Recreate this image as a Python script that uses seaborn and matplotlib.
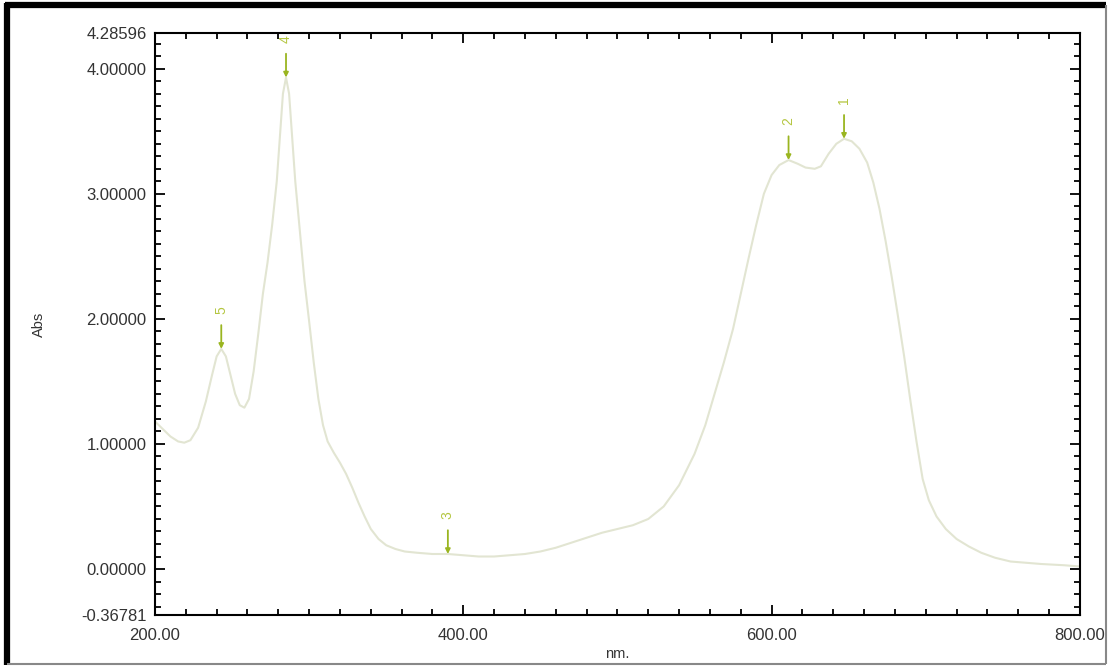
import numpy as np
import pandas as pd
import seaborn as sns
import matplotlib
matplotlib.use("Agg")
import matplotlib.pyplot as plt
from matplotlib.lines import Line2D
from matplotlib.ticker import MultipleLocator, FixedLocator, FixedFormatter

# Absorbance spectrum (wavelength in nm, absorbance)
wavelength = [200, 205, 210, 215, 219, 223, 228, 233, 237, 240, 243, 246, 249, 252,
              255, 258, 261, 264, 267, 270, 273, 276, 279, 281, 283, 285, 287, 289,
              291, 294, 297, 300, 303, 306, 309, 312, 316, 320, 324, 328, 332, 336,
              340, 345, 350, 356, 362, 370, 380, 390, 400, 410, 420, 430, 440, 450,
              460, 470, 480, 490, 500, 510, 520, 530, 540, 550, 557, 563, 569, 575,
              580, 585, 590, 595, 600, 605, 611, 617, 622, 628, 632, 637, 642, 647,
              652, 657, 662, 666, 670, 674, 678, 682, 686, 690, 694, 698, 702, 707,
              713, 720, 728, 736, 745, 755, 765, 775, 790, 800]
absorbance = [1.18, 1.12, 1.06, 1.02, 1.01, 1.03, 1.13, 1.34, 1.55, 1.70, 1.76, 1.70,
              1.55, 1.40, 1.31, 1.29, 1.36, 1.58, 1.88, 2.20, 2.45, 2.75, 3.10, 3.45,
              3.80, 3.93, 3.80, 3.45, 3.10, 2.70, 2.30, 1.98, 1.65, 1.36, 1.15, 1.02,
              0.93, 0.85, 0.76, 0.65, 0.53, 0.42, 0.32, 0.24, 0.19, 0.16, 0.14, 0.13,
              0.12, 0.12, 0.11, 0.10, 0.10, 0.11, 0.12, 0.14, 0.17, 0.21, 0.25, 0.29,
              0.32, 0.35, 0.40, 0.50, 0.67, 0.92, 1.15, 1.40, 1.65, 1.92, 2.20, 2.48,
              2.75, 3.00, 3.15, 3.23, 3.27, 3.24, 3.21, 3.20, 3.22, 3.32, 3.40, 3.44,
              3.42, 3.36, 3.25, 3.09, 2.88, 2.62, 2.33, 2.02, 1.70, 1.35, 1.02, 0.72,
              0.55, 0.42, 0.32, 0.24, 0.18, 0.13, 0.09, 0.06, 0.05, 0.04, 0.03, 0.02]

# Picked peaks / valleys
peak_ids = ["1", "2", "3", "4", "5"]
peak_nm = [647, 611, 390, 285, 243]
peak_abs = [3.44, 3.27, 0.12, 3.93, 1.76]

# Axis limits and tick labels
y_min, y_max = -0.36781, 4.28596
y_major = [y_min, 0.0, 1.0, 2.0, 3.0, 4.0, y_max]
y_labels = [f"{v:.5f}" for v in y_major]
x_major = [200, 400, 600, 800]
x_labels = [f"{v:.2f}" for v in x_major]

df = pd.DataFrame({"nm": wavelength, "Abs": absorbance})

sns.set_theme(style="white")
plt.rcParams["font.family"] = ["Liberation Sans", "DejaVu Sans"]

fig = plt.figure(figsize=(11.11, 6.69), dpi=100)
ax = fig.add_axes([0.1395, 0.0807, 0.8325, 0.870])

line_color = "#e2e5d2"
mark_color = "#9ab520"
text_color = "#333333"

sns.lineplot(data=df, x="nm", y="Abs", ax=ax, color=line_color, lw=1.5)

for pid, px, py in zip(peak_ids, peak_nm, peak_abs):
    ax.annotate("", xy=(px, py), xytext=(px, py + 0.19),
                arrowprops=dict(arrowstyle="-|>", color=mark_color, lw=1.3,
                                mutation_scale=7, shrinkA=0, shrinkB=0))
    ax.text(px, py + 0.31, pid, rotation=90, ha="center", va="center",
            fontsize=10, color="#b4c640")

ax.set_xlim(200, 800)
ax.set_ylim(y_min, y_max)

ax.xaxis.set_major_locator(FixedLocator(x_major))
ax.xaxis.set_major_formatter(FixedFormatter(x_labels))
ax.xaxis.set_minor_locator(MultipleLocator(20))
ax.yaxis.set_major_locator(FixedLocator(y_major))
ax.yaxis.set_major_formatter(FixedFormatter(y_labels))
ax.yaxis.set_minor_locator(MultipleLocator(0.1))

ax.tick_params(which="both", direction="in", top=True, right=True,
               bottom=True, left=True, color="black", width=1.3,
               labelsize=12, labelcolor=text_color)
ax.tick_params(which="major", length=7)
ax.tick_params(which="minor", length=4)
ax.tick_params(axis="x", which="major", pad=9)
ax.tick_params(axis="y", which="major", pad=6)

for s in ax.spines.values():
    s.set_visible(True)
    s.set_color("black")
    s.set_linewidth(1.5)

ax.set_xlabel("nm.", fontsize=10.5, color=text_color, labelpad=3)
ax.set_ylabel("Abs", fontsize=10.5, color=text_color, labelpad=25)
ax.grid(False)

# Window frame around the plot
W, H = 1111, 669
def fx(p): return p / W
def fy(p): return 1 - p / H
frame = dict(solid_capstyle="butt")
fig.add_artist(Line2D([fx(7), fx(7)], [fy(3), fy(665)], color="black", lw=4.5, **frame))
fig.add_artist(Line2D([fx(5), fx(1106)], [fy(5), fy(5)], color="black", lw=4.5, **frame))
fig.add_artist(Line2D([fx(1106), fx(1106)], [fy(5), fy(664)], color="#888888", lw=1.5, **frame))
fig.add_artist(Line2D([fx(7), fx(1106)], [fy(664), fy(664)], color="#888888", lw=1.5, **frame))

fig.savefig("out.png", dpi=100, facecolor="white")
